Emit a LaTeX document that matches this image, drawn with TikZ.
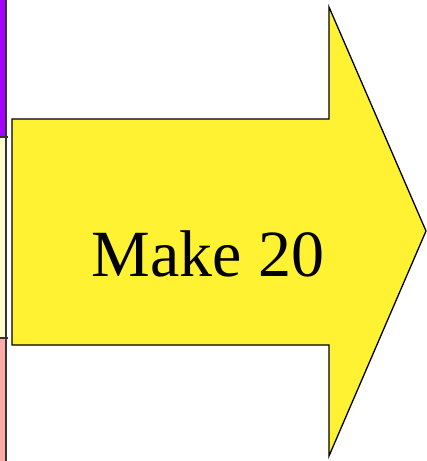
\documentclass[tikz,border=0pt]{standalone}
\usepackage{fontspec}
\setmainfont{Liberation Serif}
\definecolor{arrowyellow}{RGB}{255,242,51}
\definecolor{stripviolet}{RGB}{165,0,255}
\definecolor{stripcream}{RGB}{255,249,200}
\definecolor{strippink}{RGB}{255,170,170}
\tikzset{
  outline/.style={draw=black, line width=1.3pt, line join=miter},
  stripline/.style={draw=black!80, line width=1.2pt},
}
\begin{document}
\begin{tikzpicture}[x=1pt,y=-1pt]
\useasboundingbox (0,0) rectangle (427,461);
% left strip
\fill[stripviolet] (0,0) rectangle (6,137);
\fill[stripcream] (0,137) rectangle (6,338);
\fill[strippink] (0,338) rectangle (6,461);
\coordinate (s0) at (6,0);
\coordinate (s1) at (6,461);
\draw[stripline] (s0) -- (s1);
\coordinate (h1a) at (0,137);
\coordinate (h1b) at (8,137);
\coordinate (h2a) at (0,338);
\coordinate (h2b) at (8,338);
\draw[stripline] (h1a) -- (h1b);
\draw[stripline] (h2a) -- (h2b);
% arrow
\draw[outline, fill=arrowyellow]
  (12,119) -- (329,119) -- (329,7) -- (426,231) -- (329,456) -- (329,345) -- (12,345) -- cycle;
\node[font=\fontsize{66}{72}\selectfont, anchor=base, inner sep=0pt] (label) at (208,276) {Make 20};
\end{tikzpicture}
\end{document}
